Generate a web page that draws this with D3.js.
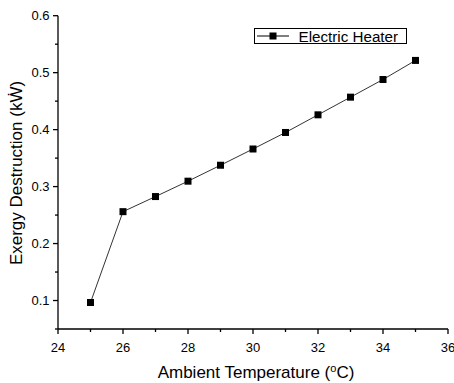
<!DOCTYPE html>
<html>
<head>
<meta charset="utf-8">
<script src="https://cdn.jsdelivr.net/npm/d3@7"></script>
<style>
  body { margin: 0; background: #fff; }
  text { font-family: "Liberation Sans", Arial, sans-serif; fill: #000; }
</style>
</head>
<body>
<svg id="chart" width="454" height="383"></svg>
<script>
// data
const temps = [25, 26, 27, 28, 29, 30, 31, 32, 33, 34, 35];
const exergy = [0.0965, 0.256, 0.2825, 0.3095, 0.3375, 0.366, 0.395, 0.426, 0.457, 0.488, 0.5215];
const xTicks = [24, 26, 28, 30, 32, 34, 36];
const yTicks = [0.1, 0.2, 0.3, 0.4, 0.5, 0.6];
const seriesName = "Electric Heater";

const svg = d3.select("#chart");
const plotLeft = 58, plotRight = 448, plotTop = 15.7, plotBottom = 329;

const x = d3.scaleLinear().domain([24, 36]).range([plotLeft, plotRight]);
const y = d3.scaleLinear().domain([0.05, 0.6]).range([plotBottom, plotTop]);

// minor ticks
const xMinor = d3.range(25, 36, 2);
const yMinor = [0.05, 0.15, 0.25, 0.35, 0.45, 0.55];

const g = svg.append("g");

// x axis
const xAxis = g.append("g").attr("transform", `translate(0,${plotBottom})`);
xAxis.append("line").attr("x1", plotLeft).attr("x2", plotRight).attr("stroke", "#000").attr("stroke-width", 1.3);
xAxis.selectAll(".maj").data(xTicks).enter().append("line")
  .attr("x1", d => x(d)).attr("x2", d => x(d)).attr("y1", 0).attr("y2", 5)
  .attr("stroke", "#000").attr("stroke-width", 1.3);
xAxis.selectAll(".min").data(xMinor).enter().append("line")
  .attr("x1", d => x(d)).attr("x2", d => x(d)).attr("y1", 0).attr("y2", 3)
  .attr("stroke", "#000").attr("stroke-width", 1.3);
xAxis.selectAll("text").data(xTicks).enter().append("text")
  .attr("x", d => x(d)).attr("y", 23)
  .attr("text-anchor", "middle").attr("font-size", 13)
  .text(d => d);

// y axis
const yAxis = g.append("g");
yAxis.append("line").attr("x1", plotLeft).attr("x2", plotLeft).attr("y1", plotTop).attr("y2", plotBottom)
  .attr("stroke", "#000").attr("stroke-width", 1.3);
yAxis.selectAll(".maj").data(yTicks).enter().append("line")
  .attr("x1", plotLeft - 5).attr("x2", plotLeft).attr("y1", d => y(d)).attr("y2", d => y(d))
  .attr("stroke", "#000").attr("stroke-width", 1.3);
yAxis.selectAll(".min").data(yMinor).enter().append("line")
  .attr("x1", plotLeft - 3).attr("x2", plotLeft).attr("y1", d => y(d)).attr("y2", d => y(d))
  .attr("stroke", "#000").attr("stroke-width", 1.3);
yAxis.selectAll("text").data(yTicks).enter().append("text")
  .attr("x", plotLeft - 8.5).attr("y", d => y(d) + 4.7)
  .attr("text-anchor", "end").attr("font-size", 13)
  .text(d => d.toFixed(1));

// axis titles
svg.append("text")
  .attr("x", 256).attr("y", 377.5)
  .attr("text-anchor", "middle").attr("font-size", 17)
  .html('Ambient Temperature (<tspan baseline-shift="super" font-size="11">o</tspan>C)');

svg.append("text")
  .attr("transform", "translate(22,173) rotate(-90)")
  .attr("text-anchor", "middle").attr("font-size", 17)
  .text("Exergy Destruction (kW\u0307)");

// series
const line = d3.line().x((d, i) => x(temps[i])).y(d => y(d));
svg.append("path").datum(exergy)
  .attr("d", line).attr("fill", "none")
  .attr("stroke", "#333").attr("stroke-width", 1);

svg.selectAll(".pt").data(exergy).enter().append("rect")
  .attr("x", (d, i) => x(temps[i]) - 3.5).attr("y", d => y(d) - 3.5)
  .attr("width", 7).attr("height", 7).attr("fill", "#000");

// legend
const lg = svg.append("g");
lg.append("rect").attr("x", 254.5).attr("y", 28.5).attr("width", 152).attr("height", 15)
  .attr("fill", "#fff").attr("stroke", "#000").attr("stroke-width", 1);
lg.append("line").attr("x1", 257).attr("x2", 289).attr("y1", 36).attr("y2", 36)
  .attr("stroke", "#000").attr("stroke-width", 1);
lg.append("rect").attr("x", 269.5).attr("y", 32.5).attr("width", 7).attr("height", 7).attr("fill", "#000");
lg.append("text").attr("x", 298.5).attr("y", 41.5).attr("font-size", 15.2).text(seriesName);
</script>
</body>
</html>
